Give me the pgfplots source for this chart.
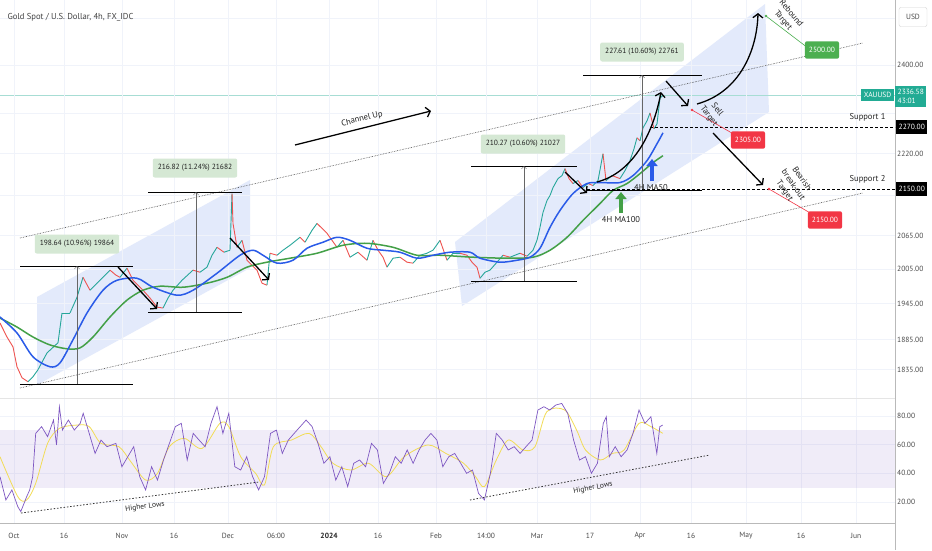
\documentclass[border=0pt]{standalone}
\usepackage{pgfplots}
\pgfplotsset{compat=1.18}
\usepackage{pgfplotstable}
\usepackage{fontspec}
\setmainfont{PT Sans}
\usetikzlibrary{arrows.meta}

\definecolor{tvgreen}{HTML}{26A69A}
\definecolor{tvred}{HTML}{EF5350}
\definecolor{maBlue}{HTML}{2A5BE8}
\definecolor{maGreen}{HTML}{43A047}
\definecolor{rsiPurple}{HTML}{7E57C2}
\definecolor{rsiYellow}{HTML}{F2DC55}
\definecolor{bandBlue}{HTML}{E3EAFB}
\definecolor{tvgrid}{HTML}{F0F3FA}
\definecolor{measFill}{HTML}{D5E8D4}
\definecolor{tgtGreen}{HTML}{4CAF50}
\definecolor{tgtRed}{HTML}{F23645}
\definecolor{lastTeal}{HTML}{22AB94}
\definecolor{axText}{HTML}{4A4A4A}
\definecolor{txt}{HTML}{222222}

\pgfplotsset{colormap={candle}{color=(tvred) color=(tvgreen)}}
\pgfplotsset{overlay/.style={at={(0pt,0pt)},anchor=south west,width=932pt,height=550pt,
  scale only axis,xmin=0,xmax=932,ymin=0,ymax=550,y dir=reverse,hide axis,clip=false}}
\newcommand{\fs}{\fontsize{7.5pt}{9pt}\selectfont}
\newcommand{\fa}{\fontsize{8.5pt}{10.5pt}\selectfont}

% price (close) x = bar position, p = price, m = 1 if next move is up
\pgfplotstableread{
x p m
0 1912.3 0
7 1888.9 0
13 1872.4 0
17 1839.9 0
22 1822.2 0
28 1815.8 1
33 1823.8 1
38 1835.0 1
47 1862.5 1
58 1879.0 1
62 1929.1 1
70 1929.1 1
77 1956.3 1
83 1991.0 0
90 1968.4 1
97 1980.5 1
110 2003.2 0
116 1994.5 0
120 1991.0 1
127 2006.7 0
133 1985.7 0
143 1968.4 0
150 1954.6 0
157 1939.3 0
163 1937.6 1
168 1954.6 1
173 1968.4 1
182 1985.7 1
193 2003.2 0
200 1999.7 1
207 2008.5 1
212 2029.7 1
217 2044.0 0
224 2035.1 1
230 2038.7 1
232 2143.2 0
233 2087.5 0
237 2044.0 1
242 2056.6 0
247 2020.8 0
252 2012.0 0
257 2003.2 0
262 1980.5 0
267 1977.1 1
270 2033.3 0
277 2029.7 1
283 2038.7 1
290 2047.6 1
300 2062.1 0
305 2053.1 1
312 2074.8 1
317 2087.5 0
322 2078.4 0
327 2069.3 0
337 2044.0 1
343 2056.6 0
350 2026.2 1
358 2035.1 0
367 2020.8 1
373 2056.6 0
378 2038.7 0
383 2026.2 0
387 2008.5 1
393 2024.4 1
400 2026.2 0
407 2017.3 0
413 2015.6 1
420 2029.7 1
427 2033.3 1
433 2038.7 1
440 2056.6 0
447 2020.8 1
453 2033.3 1
460 2033.3 0
467 2029.7 0
472 2017.3 0
477 2008.5 0
480 1989.2 1
485 1999.7 1
490 2003.2 1
497 2017.3 1
503 2029.7 0
510 2026.2 1
520 2033.3 0
527 2028.0 1
533 2038.7 1
537 2056.6 1
540 2080.2 1
543 2107.8 1
547 2130.1 1
550 2139.4 1
553 2154.5 1
558 2171.6 1
562 2177.3 1
565 2190.7 0
569 2171.6 0
573 2162.1 1
578 2167.8 0
583 2154.5 1
588 2162.1 0
593 2158.3 1
598 2167.8 1
603 2219.7 0
606 2167.8 1
612 2177.3 0
620 2171.6 1
625 2186.9 1
630 2206.3 1
634 2229.5 1
637 2251.1 0
640 2245.2 1
643 2270.9 1
647 2285.0 1
650 2301.0 0
654 2268.9 1
657 2278.9 1
660 2331.5 1
663 2336.6 1
}\pricedata

\pgfplotstableread{
x p
0 1922.3
17 1895.6
33 1856.0
50 1839.9
60 1846.3
73 1884.0
87 1929.1
103 1968.4
117 1985.7
137 1989.2
153 1973.6
177 1959.8
193 1968.4
217 1998.0
240 2029.7
253 2038.7
263 2029.7
277 2015.6
293 2020.8
307 2042.2
323 2053.1
337 2062.1
350 2056.6
367 2042.2
383 2038.7
400 2035.1
417 2024.4
433 2029.7
450 2035.1
470 2035.1
480 2024.4
500 2017.3
517 2020.8
530 2026.2
540 2042.2
550 2080.2
560 2111.5
573 2143.2
587 2162.1
600 2164.0
620 2164.0
633 2177.3
647 2206.3
657 2239.3
663 2261.0
}\maFifty

\pgfplotstableread{
x p
0 1920.6
17 1905.6
33 1888.9
50 1875.7
67 1869.2
80 1870.8
93 1888.9
110 1922.3
127 1951.1
143 1968.4
160 1975.4
183 1973.6
207 1980.5
227 1991.0
247 2008.5
267 2017.3
290 2024.4
317 2033.3
343 2047.6
367 2051.2
393 2044.0
417 2029.7
440 2029.7
473 2026.2
507 2024.4
533 2026.2
550 2038.7
567 2062.1
583 2093.0
600 2124.4
613 2148.9
627 2162.1
640 2181.1
653 2202.3
663 2215.9
}\maHundred

\pgfplotstableread{
x r
0 37.7
5.9 21.4
11.9 28.4
17.8 16.7
20.8 13.3
26.7 23.7
29.7 28.4
32.7 37.7
35.7 67.9
41.6 72.6
47.6 65.6
53.5 77.2
56.5 59.8
59.4 86.5
62.4 70.2
68.4 77.2
74.3 70.2
80.2 74.9
83.2 81.9
89.2 67.9
95.1 53.9
101 63.2
107 58.6
115.9 60.9
121.9 44.6
127.8 51.6
133.7 58.6
139.7 37.7
145.6 28.4
151.6 44.6
157.5 35.3
163.5 49.3
169.4 60.9
175.3 72.6
181.3 74.9
187.2 49.3
193.2 67.9
199.1 63.2
205.1 58.6
211 74.9
217 86.5
222.9 67.9
228.8 81.9
234.8 44.6
240.7 42.3
246.7 51.6
252.6 37.7
258.6 28.4
264.5 37.7
270.5 67.9
276.4 70.2
282.3 53.9
288.3 63.2
294.2 67.9
300.2 72.6
306.1 77.2
312.1 72.6
318 60.9
323.9 47.0
329.9 51.6
335.8 35.3
341.8 44.6
347.7 30.7
353.7 47.0
359.6 49.3
365.6 44.6
371.5 60.9
377.4 56.3
383.4 33.0
389.3 40.0
395.3 51.6
401.2 47.0
407.2 56.3
413.1 47.0
419.1 56.3
425 63.2
430.9 67.9
436.9 63.2
442.8 44.6
448.8 51.6
454.7 53.9
460.7 47.0
466.6 40.0
472.5 42.3
478.5 26.0
484.4 21.4
490.4 40.0
496.3 67.9
502.3 63.2
508.2 56.3
514.2 58.6
520.1 53.9
526 58.6
532 63.2
537.9 84.2
543.9 86.5
549.8 84.2
555.8 87.7
561.7 88.8
567.7 81.9
573.6 63.2
579.5 49.3
585.5 51.6
591.4 40.0
597.4 47.0
603.3 74.9
606.3 79.5
609.3 51.6
615.2 58.6
621.1 51.6
627.1 56.3
633 67.9
639 84.2
644.9 74.9
650.9 79.5
656.8 53.9
659.8 72.6
662.8 73.7
}\rsidata

\pgfplotstableread{
x r
0 51.6
17.8 23.7
26.7 21.4
35.7 33.0
47.6 60.9
59.4 71.4
77.3 73.7
89.2 72.6
101 60.9
118.9 58.6
130.8 48.1
145.6 35.3
157.5 40.0
169.4 58.6
184.3 64.4
202.1 57.4
219.9 74.9
228.8 72.6
240.7 51.6
255.6 40.0
264.5 31.9
273.4 58.6
291.3 63.2
309.1 67.9
321 58.6
332.9 47.0
350.7 42.3
368.5 47.0
386.4 37.7
404.2 51.6
428 59.8
445.8 53.9
463.6 47.0
475.5 37.7
484.4 30.7
496.3 49.3
508.2 63.2
523.1 56.3
535 58.6
546.8 83.0
564.7 84.2
576.6 70.2
585.5 56.3
600.3 49.3
612.2 53.9
624.1 56.3
639 74.9
650.9 72.6
662.8 67.9
}\rsima

\begin{document}
\begin{tikzpicture}[font=\fs]
\path[use as bounding box] (0pt,0pt) rectangle (932pt,550pt);
\fill[white] (0pt,0pt) rectangle (932pt,550pt);

% ---------- background overlay ----------
\begin{axis}[overlay]
  \fill[bandBlue] (37,297) -- (250,180) -- (250,268) -- (37,385) -- cycle;
  \fill[bandBlue] (455,242) -- (765,4) -- (769,112) -- (462,306) -- cycle;
  \draw[lastTeal!40, line width=0.5pt] (0,95) -- (895,95);
\end{axis}

% ---------- price pane ----------
\begin{axis}[at={(0pt,152pt)}, anchor=south west, width=895pt, height=398pt, scale only axis,
  xmin=0, xmax=895, ymode=log, ymin=1790, ymax=2542,
  axis line style={draw=none}, tick style={draw=none},
  grid=major, major grid style={draw=tvgrid, line width=0.6pt},
  xtick={14,64,122,174,228,276,329,378,436,486,537,590,640,691,746,801,856},
  xticklabels={},
  ytick={1835,1885,1945,2005,2065,2140,2220,2300,2400,2500},
  yticklabels={1835.00,1885.00,1945.00,2005.00,2065.00,{},2220.00,{},2400.00,{}},
  yticklabel pos=right,
  yticklabel style={anchor=west, font=\fs, text=axText, inner sep=2pt},
  /pgf/number format/assume math mode=true,
  colormap name=candle, clip=false]
  \addplot[mesh, shader=flat corner, point meta=explicit, line width=0.9pt]
    table[x=x, y=p, meta=m] {\pricedata};
  \addplot[maGreen, line width=1.5pt, smooth] table[x=x, y=p] {\maHundred};
  \addplot[maBlue, line width=1.5pt, smooth] table[x=x, y=p] {\maFifty};
\end{axis}

% ---------- RSI pane ----------
\begin{axis}[at={(0pt,27pt)}, anchor=south west, width=895pt, height=125pt, scale only axis,
  xmin=0, xmax=895, ymin=5.3, ymax=92.6,
  axis line style={draw=none}, tick style={draw=none},
  grid=major, major grid style={draw=tvgrid, line width=0.6pt},
  xtick={14,64,122,174,228,276,329,378,436,486,537,590,640,691,746,801,856},
  xticklabels={},
  ytick={20,40,60,80}, yticklabels={20.00,40.00,60.00,80.00},
  yticklabel pos=right,
  yticklabel style={anchor=west, font=\fs, text=axText, inner sep=2pt},
  /pgf/number format/assume math mode=true]
  \addplot[draw=none, fill=rsiPurple, fill opacity=0.11] coordinates {(0,30) (895,30) (895,70) (0,70)} -- cycle;
  \addplot[rsiYellow, line width=0.8pt, smooth] table[x=x, y=r] {\rsima};
  \addplot[rsiPurple, line width=0.7pt] table[x=x, y=r] {\rsidata};
\end{axis}

% ---------- foreground overlay ----------
\begin{axis}[overlay]
  % frame lines
  \draw[gray!55, line width=0.6pt] (895,0) -- (895,550);
  \draw[gray!55, line width=0.6pt] (0,523) -- (895,523);
  \draw[gray!20, line width=0.6pt] (0,398) -- (895,398);
  % channel
  \draw[black!75, line width=0.6pt, densely dotted] (20,238) -- (863,43);
  \draw[black!75, line width=0.6pt, densely dotted] (20,388) -- (863,193);
  % measurements
  \draw[black, line width=0.7pt] (20,266) -- (133,266) (20,384) -- (133,384);
  \draw[black!60, line width=0.5pt, -{Straight Barb[length=2.5pt,width=5pt]}] (77,384) -- (77,266);
  \draw[black, line width=0.7pt] (148,192) -- (242,192) (148,312) -- (242,312);
  \draw[black!60, line width=0.5pt, -{Straight Barb[length=2.5pt,width=5pt]}] (196,312) -- (196,192);
  \draw[black, line width=0.7pt] (471,166) -- (577,166) (471,281) -- (577,281);
  \draw[black!60, line width=0.5pt, -{Straight Barb[length=2.5pt,width=5pt]}] (524,281) -- (524,166);
  \draw[black, line width=0.7pt] (583,75) -- (702,75) (587,190) -- (702,190);
  \draw[black!60, line width=0.5pt, -{Straight Barb[length=2.5pt,width=5pt]}] (642,190) -- (642,75);
  \node[fill=measFill, rounded corners=2pt, inner xsep=5pt, inner ysep=6pt, text=txt, font=\fs] at (77,244) {198.64 (10.96\%) 19864};
  \node[fill=measFill, rounded corners=2pt, inner xsep=5pt, inner ysep=6pt, text=txt, font=\fs] at (195,168) {216.82 (11.24\%) 21682};
  \node[fill=measFill, rounded corners=2pt, inner xsep=5pt, inner ysep=6pt, text=txt, font=\fs] at (523,144) {210.27 (10.60\%) 21027};
  \node[fill=measFill, rounded corners=2pt, inner xsep=5pt, inner ysep=6pt, text=txt, font=\fs] at (642,52) {227.61 (10.60\%) 22761};
  % supports
  \draw[black, line width=0.7pt, dash pattern=on 3pt off 2pt] (650,127) -- (895,127);
  \draw[black, line width=0.7pt, dash pattern=on 3pt off 2pt] (587,189) -- (895,189);
  \node[anchor=east, text=txt, font=\fa] at (889,117) {Support 1};
  \node[anchor=east, text=txt, font=\fa] at (889,179) {Support 2};
  % arrows
  \draw[black, line width=1.3pt, -{Straight Barb[length=4pt,width=10pt]}] (295,145) -- (431,111);
  \node[rotate=14, text=txt, font=\fa] at (362,119) {Channel Up};
  \draw[black, line width=1.3pt, -{Straight Barb[length=4pt,width=10pt]}] (118,267) -- (157,309);
  \draw[black, line width=1.3pt, -{Straight Barb[length=4pt,width=10pt]}] (230,238) -- (269,280);
  \draw[black, line width=1.3pt, -{Straight Barb[length=4pt,width=10pt]}] (565,172) -- (587,193);
  \draw[black, line width=1.3pt, -{Straight Barb[length=4pt,width=10pt]}] (597,182) .. controls (635,172) and (654,130) .. (661,92);
  \draw[black, line width=1.3pt, -{Straight Barb[length=4pt,width=10pt]}] (666,81) -- (688,106);
  \draw[black, line width=1.3pt, -{Straight Barb[length=4pt,width=10pt]}] (697,104) .. controls (740,92) and (757,50) .. (758,13);
  \draw[black, line width=1.3pt, -{Straight Barb[length=4pt,width=10pt]}] (713,133) -- (763,185);
  % MA markers
  \draw[maGreen, line width=4pt, -{Triangle[length=7pt,width=11pt]}] (621,213) -- (621,192);
  \draw[maBlue, line width=4pt, -{Triangle[length=7pt,width=11pt]}] (652,181) -- (652,159);
  \node[text=txt, font=\fa] at (651,188) {4H MA50};
  \node[text=txt, font=\fa] at (621,220) {4H MA100};
  % targets
  \draw[tgtGreen, line width=0.6pt] (766,16) -- (808,48);
  \fill[tgtGreen] (766,16) circle (1.3pt);
  \node[fill=tgtGreen, text=white, rounded corners=2pt, inner xsep=4pt, inner ysep=6pt, font=\fs] at (822,50) {2500.00};
  \node[rotate=-50, align=center, text=txt, font=\fa] at (787,17) {Rebound\\Target};
  \draw[tgtRed, line width=0.6pt] (692,110) -- (737,136);
  \fill[tgtRed] (692,110) circle (1.3pt);
  \node[fill=tgtRed, text=white, rounded corners=2pt, inner xsep=4pt, inner ysep=6pt, font=\fs] at (748,140) {2305.00};
  \node[rotate=-52, align=center, text=txt, font=\fa] at (713,113) {Sell\\Target};
  \draw[tgtRed, line width=0.6pt] (769,189) -- (812,214);
  \fill[tgtRed] (769,189) circle (1.3pt);
  \node[fill=tgtRed, text=white, rounded corners=2pt, inner xsep=4pt, inner ysep=6pt, font=\fs] at (825,220) {2150.00};
  \node[rotate=-55, align=center, text=txt, font=\fa] at (793,185) {Bearish\\break-out\\Target};
  % right axis labels
  \node[anchor=west, fill=black, text=white, inner xsep=2.5pt, inner ysep=4pt, font=\fs] at (896,127) {2270.00};
  \node[anchor=west, fill=black, text=white, inner xsep=2.5pt, inner ysep=4pt, font=\fs] at (896,189) {2150.00};
  \node[anchor=north west, fill=lastTeal, text=white, align=left, inner xsep=2.5pt, inner ysep=3pt, font=\fs] at (895,86) {2336.58\\43:01};
  \node[anchor=east, fill=lastTeal, text=white, inner xsep=2.5pt, inner ysep=3.5pt, font=\fs] at (894,95) {XAUUSD};
  \node[draw=gray!35, rounded corners=2pt, minimum width=28pt, minimum height=19pt, text=axText, font=\fs] at (913,17) {USD};
  % title
  \node[anchor=west, text=txt!85, font=\fontsize{8.6pt}{10pt}\selectfont] at (4,17) {Gold Spot / U.S. Dollar, 4h, FX\_IDC};
  % RSI notes
  \draw[black!80, line width=0.8pt, dash pattern=on 1.5pt off 1.8pt] (21,513) -- (259,482);
  \node[rotate=7.4, text=txt, font=\fs] at (145,507) {Higher Lows};
  \draw[black!80, line width=0.8pt, dash pattern=on 1.5pt off 1.8pt] (470,500) -- (710,455);
  \node[rotate=10.6, text=txt, font=\fs] at (593,488) {Higher Lows};
  % date labels
  \node[text=axText, font=\fs] at (14,536) {Oct};
  \node[text=axText, font=\fs] at (64,536) {16};
  \node[text=axText, font=\fs] at (122,536) {Nov};
  \node[text=axText, font=\fs] at (174,536) {16};
  \node[text=axText, font=\fs] at (228,536) {Dec};
  \node[text=axText, font=\fs] at (276,536) {06:00};
  \node[text=txt, font=\fs\bfseries] at (329,536) {2024};
  \node[text=axText, font=\fs] at (378,536) {16};
  \node[text=axText, font=\fs] at (436,536) {Feb};
  \node[text=axText, font=\fs] at (486,536) {14:00};
  \node[text=axText, font=\fs] at (537,536) {Mar};
  \node[text=axText, font=\fs] at (590,536) {17};
  \node[text=axText, font=\fs] at (640,536) {Apr};
  \node[text=axText, font=\fs] at (691,536) {16};
  \node[text=axText, font=\fs] at (746,536) {May};
  \node[text=axText, font=\fs] at (801,536) {16};
  \node[text=axText, font=\fs] at (856,536) {Jun};
\end{axis}
\end{tikzpicture}
\end{document}
